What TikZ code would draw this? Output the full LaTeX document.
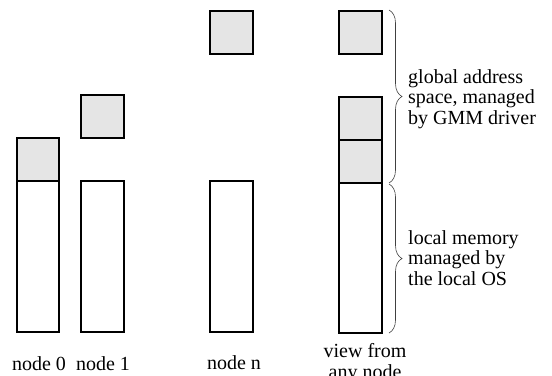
\documentclass[tikz,border=0pt]{standalone}
\usepackage{fontspec}
\setmainfont{Liberation Serif}
\usetikzlibrary{decorations.pathreplacing}
\tikzset{
  mem/.style={draw=black, line width=2.2bp, fill=white},
  glob/.style={draw=black, line width=2.2bp, fill=black!10},
  membrace/.style={draw=black!75, line width=0.6bp,
    decorate, decoration={brace, amplitude=13bp}},
  lbl/.style={inner sep=0pt, font=\fontsize{20bp}{20.5bp}\selectfont},
}
\begin{document}
\begin{tikzpicture}[x=1bp, y=-1bp]
\useasboundingbox (0,0) rectangle (552,375);

% node 0: local memory with its share of the global space on top
\draw[glob] (17,138) rectangle (59,181);
\draw[mem]  (17,181) rectangle (59,332);
% node 1
\draw[glob] (81,95) rectangle (124,138);
\draw[mem]  (81,181) rectangle (124,332);
% node n
\draw[glob] (210,11) rectangle (253,54);
\draw[mem]  (210,181) rectangle (253,332);
% view from any node
\draw[glob] (339,11) rectangle (382,54);
\draw[glob] (339,97) rectangle (382,140);
\draw[glob] (339,140) rectangle (382,183);
\draw[mem]  (339,183) rectangle (382,333);

% braces
\coordinate (gtop) at (389,10);
\coordinate (gbot) at (389,183);
\coordinate (ltop) at (389,184);
\coordinate (lbot) at (389,333);
\draw[membrace] (gtop) -- (gbot);
\draw[membrace] (ltop) -- (lbot);

% labels (base anchor of a multi-line node sits on its last line)
\node[lbl, anchor=base] (n0) at (39,370) {node 0};
\node[lbl, anchor=base] (n1) at (103,370) {node 1};
\node[lbl, anchor=base] (nn) at (234,369) {node n};
\node[lbl, anchor=base, align=center] (view) at (365,378) {view from\\any node};
\node[lbl, anchor=base west, align=left] (gas) at (408,124) {global address\\space, managed\\by GMM driver};
\node[lbl, anchor=base west, align=left] (loc) at (408,285) {local memory\\managed by\\the local OS};
\end{tikzpicture}
\end{document}
